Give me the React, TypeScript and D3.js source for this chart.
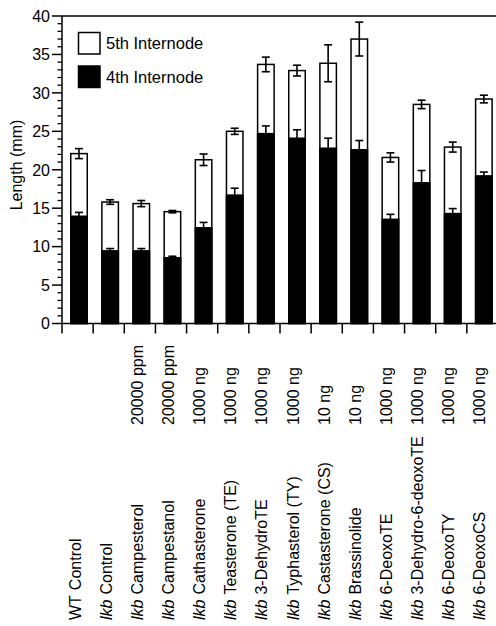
import React from "react";
import * as d3 from "d3";

const groups = ["WT", "lkb", "lkb", "lkb", "lkb", "lkb", "lkb", "lkb", "lkb", "lkb", "lkb", "lkb", "lkb", "lkb"];
const names = ["Control", "Control", "Campesterol", "Campestanol", "Cathasterone", "Teasterone (TE)", "3-DehydroTE", "Typhasterol (TY)", "Castasterone (CS)", "Brassinolide", "6-DeoxoTE", "3-Dehydro-6-deoxoTE", "6-DeoxoTY", "6-DeoxoCS"];
const doses = ["", "", "20000 ppm", "20000 ppm", "1000 ng", "1000 ng", "1000 ng", "1000 ng", "10 ng", "10 ng", "1000 ng", "1000 ng", "1000 ng", "1000 ng"];
const fourth = [13.95, 9.45, 9.45, 8.55, 12.45, 16.7, 24.7, 24.1, 22.8, 22.6, 13.55, 18.3, 14.3, 19.2];
const fourthErr = [0.5, 0.3, 0.3, 0.2, 0.7, 0.9, 1.0, 1.1, 1.3, 1.2, 0.65, 1.6, 0.65, 0.5];
const total = [22.1, 15.8, 15.6, 14.55, 21.3, 25.0, 33.7, 32.9, 33.85, 37.0, 21.6, 28.5, 22.95, 29.2];
const totalErr = [0.65, 0.3, 0.4, 0.15, 0.75, 0.4, 0.95, 0.7, 2.4, 2.2, 0.6, 0.55, 0.65, 0.5];
const yMajor = [0, 5, 10, 15, 20, 25, 30, 35, 40];
const legendItems = ["5th Internode", "4th Internode"];

const W = 496;
const H = 626;
const FONT = "'Liberation Sans', Arial, Helvetica, sans-serif";

export default function App() {
  const idx = names.map((_, i) => i);
  const x = d3.scaleBand<number>().domain(idx).range([62, 498]).paddingInner(0).paddingOuter(0);
  const y = d3.scaleLinear().domain([0, 40]).range([323.5, 16]);
  const bw = 16.5;
  const cx = (i: number) => (x(i) as number) + 17;
  const minor = d3.range(0, 41, 1).filter((v) => v % 5 !== 0);
  const capW = 8;

  const errBar = (c: number, v: number, e: number, key: string) => (
    <g key={key} stroke="#000" strokeWidth={1.6}>
      <line x1={c} x2={c} y1={y(v - e)} y2={y(v + e)} />
      <line x1={c - capW / 2} x2={c + capW / 2} y1={y(v + e)} y2={y(v + e)} />
      <line x1={c - capW / 2} x2={c + capW / 2} y1={y(v - e)} y2={y(v - e)} />
    </g>
  );

  return (
    <svg width={W} height={H} style={{ position: "absolute", left: 0, top: 0, background: "#fff" }} fontFamily={FONT}>
      <rect x={0} y={0} width={W} height={H} fill="#fff" />
      {/* frame */}
      <line x1={62} x2={W} y1={y(40)} y2={y(40)} stroke="#000" strokeWidth={1.5} />
      <line x1={62} x2={62} y1={y(40)} y2={y(0) + 10} stroke="#000" strokeWidth={1.5} />
      <line x1={62} x2={W} y1={y(0)} y2={y(0)} stroke="#000" strokeWidth={1.5} />
      {/* y ticks */}
      {yMajor.map((v) => (
        <g key={"M" + v}>
          <line x1={52} x2={62} y1={y(v)} y2={y(v)} stroke="#000" strokeWidth={1.5} />
          <text x={50} y={y(v)} dy="0.36em" textAnchor="end" fontSize={16}>{v}</text>
        </g>
      ))}
      {minor.map((v) => (
        <line key={"m" + v} x1={57.5} x2={62} y1={y(v)} y2={y(v)} stroke="#000" strokeWidth={1.3} />
      ))}
      {/* x ticks */}
      {idx.slice(1).map((i) => (
        <line key={"xt" + i} x1={x(i) as number} x2={x(i) as number} y1={y(0)} y2={y(0) + 10} stroke="#000" strokeWidth={1.5} />
      ))}
      {/* bars */}
      {idx.map((i) => (
        <g key={"b" + i}>
          <rect x={cx(i) - bw / 2} y={y(total[i])} width={bw} height={y(0) - y(total[i])} fill="#fff" stroke="#000" strokeWidth={1.5} />
          {errBar(cx(i), total[i], totalErr[i], "te" + i)}
          <rect x={cx(i) - bw / 2} y={y(fourth[i])} width={bw} height={y(0) - y(fourth[i])} fill="#000" stroke="#000" strokeWidth={1.5} />
          {errBar(cx(i), fourth[i], fourthErr[i], "fe" + i)}
        </g>
      ))}
      {/* legend */}
      {legendItems.map((t, k) => (
        <g key={"lg" + k}>
          <rect x={78.5} y={32.5 + k * 33.5} width={21.5} height={21.5} fill={k === 0 ? "#fff" : "#000"} stroke="#000" strokeWidth={1.5} />
          <text x={106} y={43.5 + k * 33.5} dy="0.36em" fontSize={16.5}>{t}</text>
        </g>
      ))}
      {/* y title */}
      <text transform={`translate(22,165) rotate(-90)`} textAnchor="middle" fontSize={16}>Length (mm)</text>
      {/* x labels */}
      {idx.map((i) => (
        <g key={"xl" + i}>
          <text transform={`translate(${cx(i) + 1.5},620) rotate(-90)`} fontSize={16}>
            <tspan fontStyle={groups[i] === "lkb" ? "italic" : "normal"}>{groups[i]}</tspan>
            <tspan dx={5}>{names[i]}</tspan>
          </text>
          {doses[i] && (
            <text transform={`translate(${cx(i) + 1.5},425) rotate(-90)`} fontSize={16}>{doses[i]}</text>
          )}
        </g>
      ))}
    </svg>
  );
}
